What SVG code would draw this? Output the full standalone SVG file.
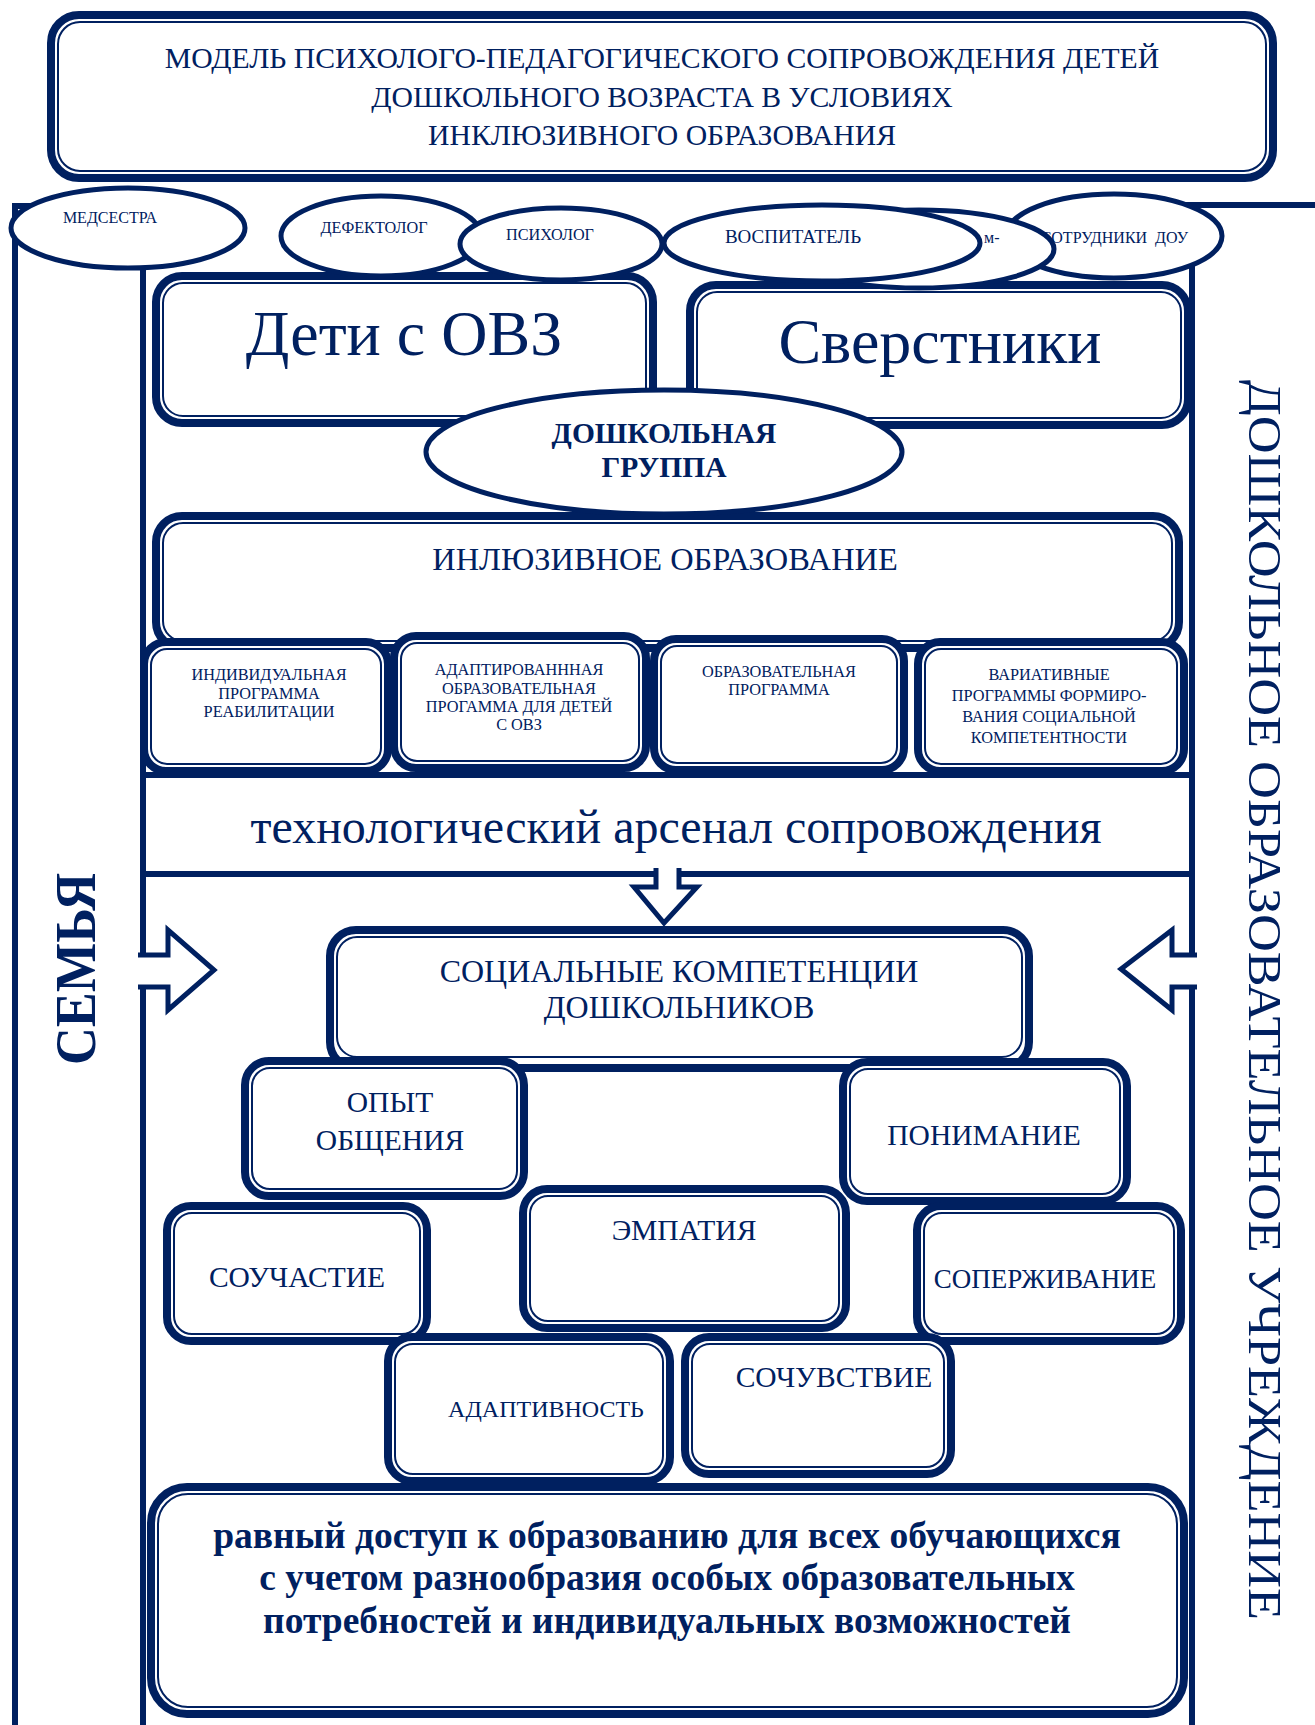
<svg xmlns="http://www.w3.org/2000/svg" width="1315" height="1725" viewBox="0 0 1315 1725">
<style>
.bo{fill:#fff;stroke:#002060;stroke-width:8}
.bi{fill:#fff;stroke:#002060;stroke-width:2}
.el{fill:#fff;stroke:#002060;stroke-width:5}
.ln{stroke:#002060;stroke-width:6;fill:none}
.ar{fill:#fff;stroke:#002060;stroke-width:5;stroke-linejoin:miter}
text{font-family:"Liberation Serif","Times New Roman",serif;fill:#002060;text-anchor:middle}
.t15{font-size:16.3px}
.t28{font-size:29.5px}
.b{font-weight:bold}
</style>
<rect width="1315" height="1725" fill="#fff"/>
<g id="connectors">
<line class="ln" x1="15" y1="206" x2="15" y2="1725"/>
<line class="ln" x1="12" y1="206" x2="40" y2="206"/>
<line class="ln" x1="1100" y1="205" x2="1315" y2="205"/>
<line class="ln" x1="143" y1="265" x2="143" y2="1725"/>
<line class="ln" x1="1192" y1="265" x2="1192" y2="1725"/>
</g>
<g id="title">
<rect class="bo" x="51" y="15" width="1222" height="163" rx="28"/>
<rect class="bi" x="58" y="22" width="1208" height="149" rx="22"/>
<text x="662" y="68" font-size="29.7">МОДЕЛЬ ПСИХОЛОГО-ПЕДАГОГИЧЕСКОГО СОПРОВОЖДЕНИЯ ДЕТЕЙ</text>
<text x="662" y="107" font-size="29.7">ДОШКОЛЬНОГО ВОЗРАСТА В УСЛОВИЯХ</text>
<text x="662" y="145" font-size="29.7">ИНКЛЮЗИВНОГО ОБРАЗОВАНИЯ</text>
</g>
<g id="deti">
<rect class="bo" x="156" y="276" width="497" height="147" rx="26"/>
<rect class="bi" x="163" y="283" width="483" height="133" rx="20"/>
<text x="404" y="355" font-size="64">Дети с ОВЗ</text>
</g>
<g id="sverstniki">
<rect class="bo" x="690" y="285" width="498" height="140" rx="26"/>
<rect class="bi" x="697" y="292" width="484" height="126" rx="20"/>
<text x="940" y="363" font-size="64">Сверстники</text>
</g>
<g id="medsestra">
<ellipse class="el" cx="128" cy="228" rx="117" ry="40"/>
<text x="110" y="223" font-size="16">МЕДСЕСТРА</text>
</g>
<g id="defektolog">
<ellipse class="el" cx="381" cy="236" rx="100" ry="40"/>
<text x="374" y="233" font-size="16.2">ДЕФЕКТОЛОГ</text>
</g>
<g id="psiholog">
<ellipse class="el" cx="561" cy="244" rx="101" ry="36"/>
<text x="550" y="240" font-size="16.2">ПСИХОЛОГ</text>
</g>
<g id="sotrudniki">
<ellipse class="el" cx="1114" cy="236" rx="108" ry="42"/>
<text x="1188" y="243" font-size="16" style="text-anchor:end" xml:space="preserve">СОТРУДНИКИ  ДОУ</text>
</g>
<g id="pomoshnik">
<ellipse class="el" cx="919" cy="249" rx="135" ry="39"/>
<text x="984" y="243" font-size="16" style="text-anchor:start">м-</text>
</g>
<g id="vospitatel">
<ellipse class="el" cx="822" cy="243" rx="158" ry="38"/>
<text x="793" y="243" font-size="19">ВОСПИТАТЕЛЬ</text>
</g>
<g id="inkl">
<rect class="bo" x="156" y="516" width="1023" height="132" rx="26"/>
<rect class="bi" x="163" y="523" width="1009" height="118" rx="20"/>
<text x="665" y="570" font-size="32.4">ИНЛЮЗИВНОЕ ОБРАЗОВАНИЕ</text>
</g>
<g id="gruppa">
<ellipse class="el" cx="664" cy="452" rx="238" ry="62" stroke-width="6"/>
<text class="b" x="664" y="443" font-size="29.5">ДОШКОЛЬНАЯ</text>
<text class="b" x="664" y="477" font-size="29.5">ГРУППА</text>
</g>
<g id="prog1">
<rect class="bo" x="144" y="642" width="244" height="129" rx="22"/>
<rect class="bi" x="151" y="649" width="230" height="115" rx="16"/>
<text class="t15" x="269" y="680">ИНДИВИДУАЛЬНАЯ</text>
<text class="t15" x="269" y="699">ПРОГРАММА</text>
<text class="t15" x="269" y="717">РЕАБИЛИТАЦИИ</text>
</g>
<g id="prog2">
<rect class="bo" x="394" y="636" width="252" height="132" rx="22"/>
<rect class="bi" x="401" y="643" width="238" height="118" rx="16"/>
<text class="t15" x="519" y="675">АДАПТИРОВАНННАЯ</text>
<text class="t15" x="519" y="694">ОБРАЗОВАТЕЛЬНАЯ</text>
<text class="t15" x="519" y="712">ПРОГАММА ДЛЯ ДЕТЕЙ</text>
<text class="t15" x="519" y="730">С ОВЗ</text>
</g>
<g id="prog3">
<rect class="bo" x="654" y="639" width="250" height="131" rx="22"/>
<rect class="bi" x="661" y="646" width="236" height="117" rx="16"/>
<text class="t15" x="779" y="677">ОБРАЗОВАТЕЛЬНАЯ</text>
<text class="t15" x="779" y="695">ПРОГРАММА</text>
</g>
<g id="prog4">
<rect class="bo" x="918" y="642" width="266" height="129" rx="22"/>
<rect class="bi" x="925" y="649" width="252" height="115" rx="16"/>
<text class="t15" x="1049" y="680">ВАРИАТИВНЫЕ</text>
<text class="t15" x="1049" y="701">ПРОГРАММЫ ФОРМИРО-</text>
<text class="t15" x="1049" y="722">ВАНИЯ СОЦИАЛЬНОЙ</text>
<text class="t15" x="1049" y="743">КОМПЕТЕНТНОСТИ</text>
</g>
<g id="arsenal">
<rect x="143" y="775" width="1049" height="99" fill="#fff" stroke="#002060" stroke-width="6"/>
<text x="676" y="843" font-size="48">технологический арсенал сопровождения</text>
</g>
<g id="arrows">
<path class="ar" d="M656,868 V887 H634 L664,923 L697,887 H679 V868"/>
<path class="ar" d="M138,955 H168 V930 L214,970 L168,1010 V987 H138"/>
<path class="ar" d="M1197,955 H1172 V930 L1121,969 L1172,1010 V987 H1197"/>
</g>
<g id="social">
<rect class="bo" x="330" y="930" width="699" height="138" rx="26"/>
<rect class="bi" x="337" y="937" width="685" height="120" rx="20"/>
<text x="679" y="982" font-size="32">СОЦИАЛЬНЫЕ КОМПЕТЕНЦИИ</text>
<text x="679" y="1018" font-size="32">ДОШКОЛЬНИКОВ</text>
</g>
<g id="opyt">
<rect class="bo" x="245" y="1061" width="279" height="135" rx="24"/>
<rect class="bi" x="252" y="1068" width="265" height="121" rx="18"/>
<text class="t28" x="390" y="1112">ОПЫТ</text>
<text class="t28" x="390" y="1150">ОБЩЕНИЯ</text>
</g>
<g id="ponimanie">
<rect class="bo" x="843" y="1062" width="284" height="139" rx="24"/>
<rect class="bi" x="850" y="1069" width="270" height="125" rx="18"/>
<text class="t28" x="984" y="1145">ПОНИМАНИЕ</text>
</g>
<g id="souchastie">
<rect class="bo" x="167" y="1206" width="260" height="135" rx="24"/>
<rect class="bi" x="174" y="1213" width="246" height="121" rx="18"/>
<text class="t28" x="297" y="1287">СОУЧАСТИЕ</text>
</g>
<g id="empatiya">
<rect class="bo" x="523" y="1189" width="323" height="139" rx="24"/>
<rect class="bi" x="530" y="1196" width="309" height="125" rx="18"/>
<text class="t28" x="684" y="1240">ЭМПАТИЯ</text>
</g>
<g id="soperzhivanie">
<rect class="bo" x="917" y="1206" width="264" height="135" rx="24"/>
<rect class="bi" x="924" y="1213" width="250" height="121" rx="18"/>
<text x="1045" y="1288" font-size="27">СОПЕРЖИВАНИЕ</text>
</g>
<g id="adaptivnost">
<rect class="bo" x="388" y="1337" width="282" height="144" rx="24"/>
<rect class="bi" x="395" y="1344" width="268" height="130" rx="18"/>
<text x="546" y="1417" font-size="24">АДАПТИВНОСТЬ</text>
</g>
<g id="sochuvstvie">
<rect class="bo" x="685" y="1337" width="266" height="137" rx="24"/>
<rect class="bi" x="692" y="1344" width="252" height="123" rx="18"/>
<text class="t28" x="834" y="1387">СОЧУВСТВИЕ</text>
</g>
<g id="dostup">
<rect class="bo" x="151" y="1487" width="1033" height="227" rx="36"/>
<rect class="bi" x="158" y="1494" width="1019" height="213" rx="30"/>
<text class="b" x="667" y="1548" font-size="37.5">равный доступ к образованию для всех обучающихся</text>
<text class="b" x="667" y="1590" font-size="37.5">с учетом разнообразия особых образовательных</text>
<text class="b" x="667" y="1633" font-size="37.5">потребностей и индивидуальных возможностей</text>
</g>
<g id="semya">
<text class="b" transform="translate(95,969) rotate(-90)" font-size="58" textLength="192" lengthAdjust="spacingAndGlyphs">СЕМЬЯ</text>
</g>
<g id="dou">
<text transform="translate(1249,1000) rotate(90)" font-size="47" textLength="1240" lengthAdjust="spacingAndGlyphs">ДОШКОЛЬНОЕ ОБРАЗОВАТЕЛЬНОЕ УЧРЕЖДЕНИЕ</text>
</g>
</svg>
